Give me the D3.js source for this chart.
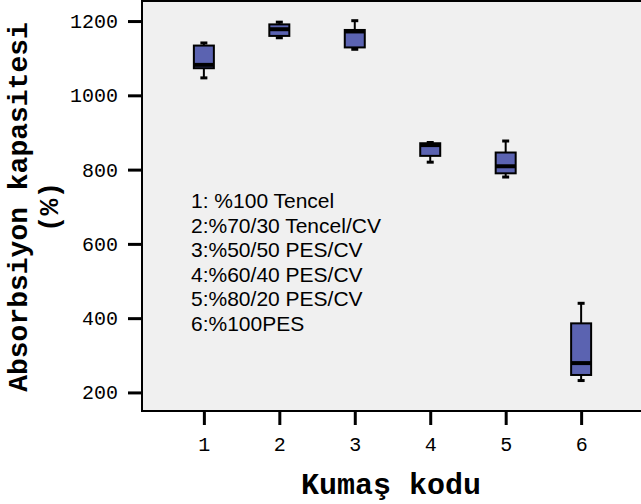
<!DOCTYPE html>
<meta charset="utf-8">
<style>
body { margin: 0; background: #fff; }
.tick text { font-family: "Liberation Mono", "Courier New", monospace; font-size: 20px; fill: #000; }
.tick line { stroke: #000; stroke-width: 3; }
.baslik { font-family: "Liberation Mono", "Courier New", monospace; font-weight: bold; }
.aciklama { font-family: "Liberation Sans", Arial, sans-serif; font-size: 21px; }
</style>
<body>
<script src="https://d3js.org/d3.v7.min.js"></script>
<script>

// kumas kodlari ve kutu grafigi degerleri
var kodlar = ["1", "2", "3", "4", "5", "6"];
var altUc  = [1047, 1155, 1124, 820, 780, 232];
var q1     = [1073, 1160, 1129, 837, 790, 247];
var medyan = [1082, 1178, 1172, 866, 809, 279];
var q3     = [1134, 1191, 1176, 871, 846, 386];
var ustUc  = [1141, 1197, 1201, 873, 877, 440];
var yTicks = [200, 400, 600, 800, 1000, 1200];
var aciklamalar = ["1: %100 Tencel", "2:%70/30 Tencel/CV", "3:%50/50 PES/CV",
                   "4:%60/40 PES/CV", "5:%80/20 PES/CV", "6:%100PES"];

var w = 641, h = 504;
var sol = 142, ust = 1, alt = 411, sag = 643;

var kutular = kodlar.map(function(k, i) {
    return {kod: k, min: altUc[i], q1: q1[i], med: medyan[i], q3: q3[i], max: ustUc[i]};
});

var x = d3.scalePoint().domain(kodlar).range([sol, sag]).padding(0.82);
var y = d3.scaleLinear().domain([150, 1254]).range([alt, ust]);

var svg = d3.select("body").append("svg")
    .attr("width", w)
    .attr("height", h);

// grafik alani
svg.append("rect")
    .attr("x", sol).attr("y", ust)
    .attr("width", 700).attr("height", alt - ust)
    .attr("fill", "#f0f0f0")
    .attr("stroke", "#000")
    .attr("stroke-width", 2);

// eksenler
var yEksen = svg.append("g")
    .attr("transform", "translate(" + sol + ",0)")
    .call(d3.axisLeft(y).tickValues(yTicks).tickFormat(d3.format("d")).tickSize(14).tickPadding(10));
yEksen.select(".domain").remove();

var xEksen = svg.append("g")
    .attr("transform", "translate(0," + alt + ")")
    .call(d3.axisBottom(x).tickSize(14).tickPadding(12));
xEksen.select(".domain").remove();

// biyikler
var g = svg.selectAll(".kutu")
    .data(kutular)
    .enter()
    .append("g")
    .attr("class", "kutu");

g.append("line")
    .attr("x1", function(d) { return x(d.kod); })
    .attr("x2", function(d) { return x(d.kod); })
    .attr("y1", function(d) { return y(d.max); })
    .attr("y2", function(d) { return y(d.min); })
    .attr("stroke", "#000")
    .attr("stroke-width", 2);

g.selectAll(".uc")
    .data(function(d) { return [{kod: d.kod, v: d.max}, {kod: d.kod, v: d.min}]; })
    .enter()
    .append("line")
    .attr("x1", function(d) { return x(d.kod) - 3.5; })
    .attr("x2", function(d) { return x(d.kod) + 3.5; })
    .attr("y1", function(d) { return y(d.v); })
    .attr("y2", function(d) { return y(d.v); })
    .attr("stroke", "#000")
    .attr("stroke-width", 3);

// kutular
g.append("rect")
    .attr("x", function(d) { return x(d.kod) - 10; })
    .attr("y", function(d) { return y(d.q3); })
    .attr("width", 20)
    .attr("height", function(d) { return y(d.q1) - y(d.q3); })
    .attr("fill", "#5b63b1")
    .attr("stroke", "#000")
    .attr("stroke-width", 2);

g.append("line")
    .attr("x1", function(d) { return x(d.kod) - 10; })
    .attr("x2", function(d) { return x(d.kod) + 10; })
    .attr("y1", function(d) { return y(d.med); })
    .attr("y2", function(d) { return y(d.med); })
    .attr("stroke", "#000")
    .attr("stroke-width", 4);

// eksen basliklari
svg.append("text")
    .attr("class", "baslik")
    .style("font-size", "30px")
    .attr("x", 391).attr("y", 494)
    .attr("text-anchor", "middle")
    .text("Kumaş kodu");

var yBaslik = svg.append("text")
    .attr("class", "baslik")
    .style("font-size", "28px")
    .attr("transform", "translate(27,207) rotate(-90)")
    .attr("text-anchor", "middle");
yBaslik.append("tspan").attr("x", 0).attr("y", 0).text("Absorbsiyon kapasitesi");
yBaslik.append("tspan").attr("x", 0).attr("y", 31).text("(%)");

// aciklama metni
svg.selectAll(".aciklama")
    .data(aciklamalar)
    .enter()
    .append("text")
    .attr("class", "aciklama")
    .attr("x", 191)
    .attr("y", function(d, i) { return 208 + i * 24.6; })
    .text(function(d) { return d; });

</script>
</body>
